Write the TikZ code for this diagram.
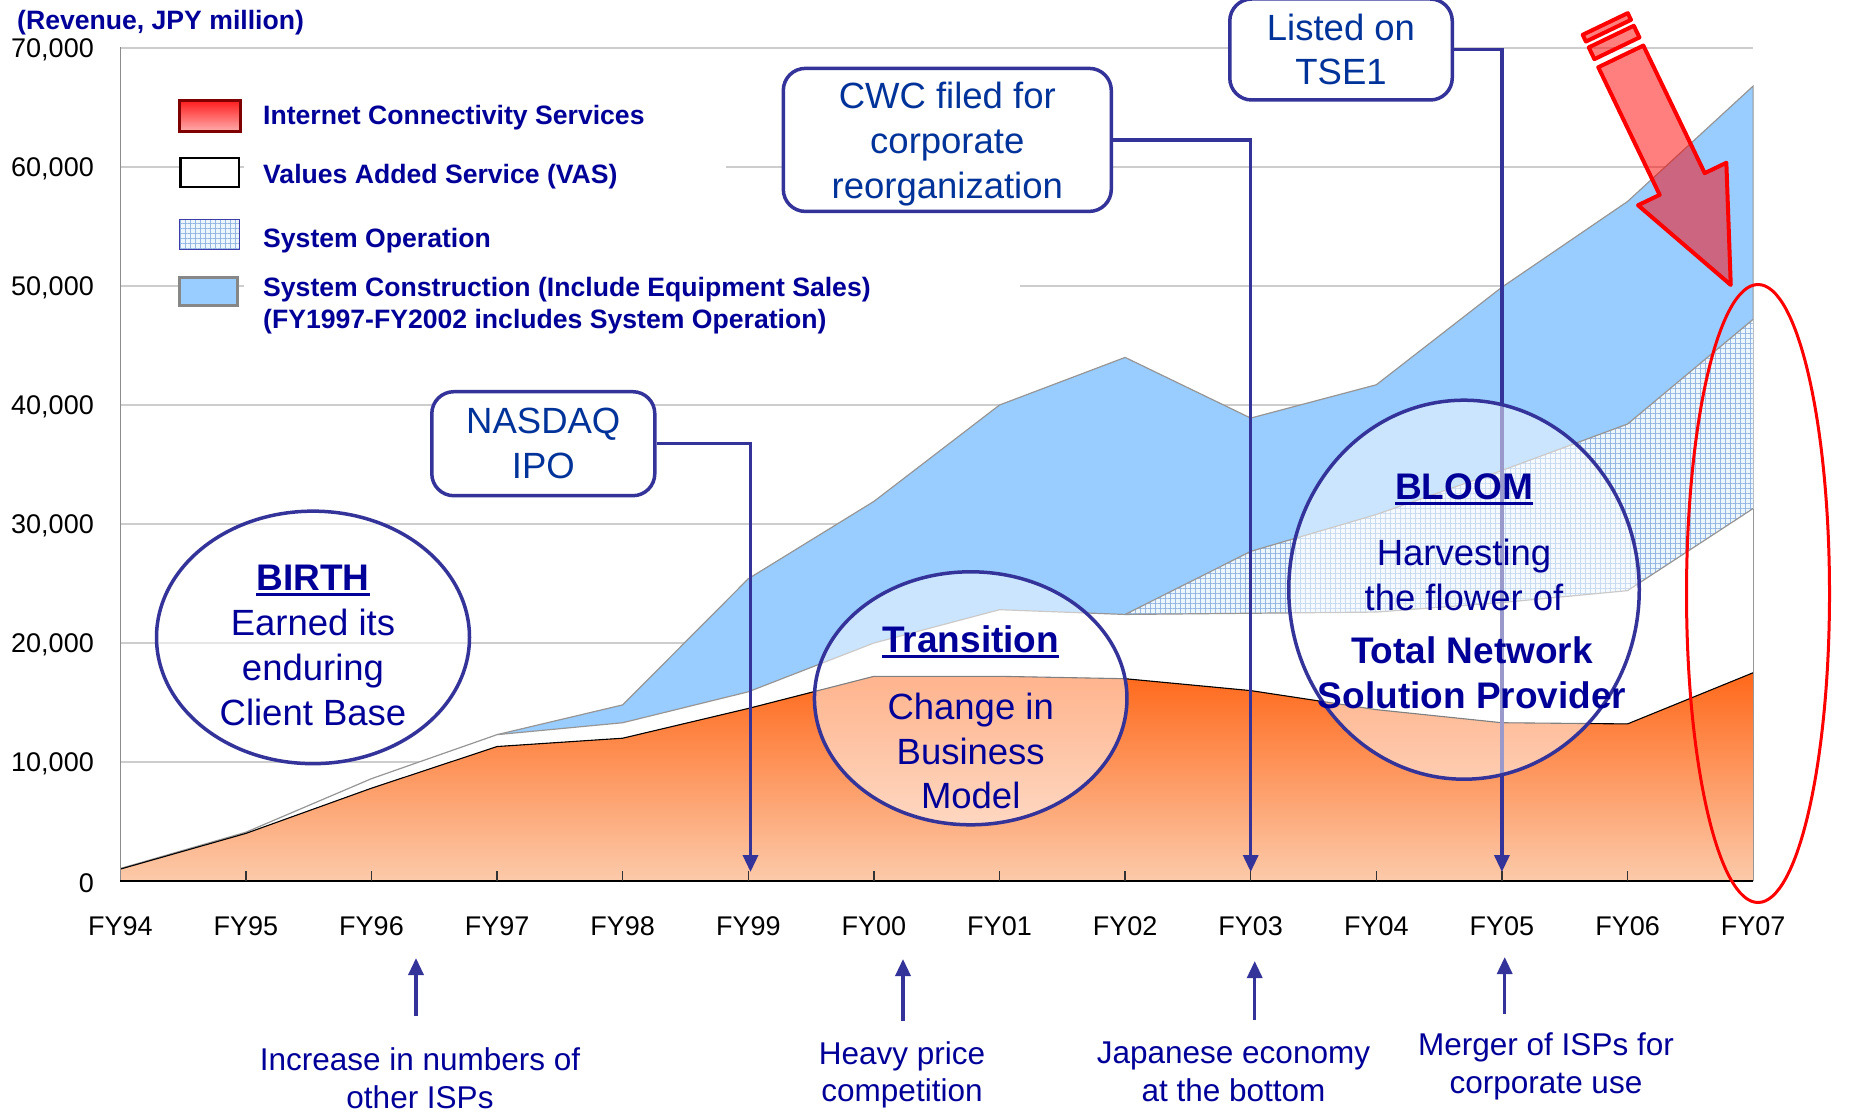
\documentclass[tikz,border=0pt]{standalone}
\usepackage{fontspec}
\setmainfont{Liberation Sans}
\usetikzlibrary{arrows.meta,shapes.geometric,patterns.meta}

\definecolor{cnav}{RGB}{0,0,153}
\definecolor{cbox}{RGB}{0,51,153}
\definecolor{cline}{RGB}{51,51,153}
\definecolor{cblue}{RGB}{153,204,255}
\definecolor{cgrid}{RGB}{205,205,205}
\definecolor{corgT}{RGB}{255,104,26}
\definecolor{corgM}{RGB}{252,162,122}
\definecolor{corgB}{RGB}{252,202,170}
\definecolor{chatch}{RGB}{150,182,228}
\definecolor{chatchbg}{RGB}{236,246,253}
\definecolor{cdred}{RGB}{128,0,0}
\definecolor{careal}{RGB}{150,150,150}
\definecolor{caxis}{RGB}{140,140,140}
\definecolor{credT}{RGB}{255,30,30}
\definecolor{credB}{RGB}{255,175,175}
\definecolor{chbord}{RGB}{60,60,170}
\definecolor{cgbord}{RGB}{135,135,135}
\newcommand\fsz[2]{\fontsize{#1}{#2}\selectfont}

\begin{document}
\begin{tikzpicture}[x=1pt,y=-1pt,
  gridl/.style={cgrid,line width=1.4pt},
  arealine/.style={draw=careal,line width=1.2pt},
  conn/.style={cline,line width=3.4pt,-{Triangle[width=15pt,length=17pt]}},
  boxst/.style={draw=cline,line width=3.5pt,rounded corners=22pt,fill=white,align=center,
     text=cbox,font=\fsz{36.5}{44.8},inner sep=0pt},
  btxt/.style={text=cbox,font=\fsz{36.5}{44.8},align=center,inner sep=0pt},
  ellst/.style={ellipse,draw=cline,line width=3.5pt,fill=white,fill opacity=0.5,draw opacity=1,inner sep=0pt},
  etxt/.style={text=cnav,font=\fsz{36.5}{44.8},align=center,inner sep=0pt},
  ehead/.style={text=cnav,font=\bfseries\fsz{37}{44.8},align=center,inner sep=0pt},
  legt/.style={anchor=west,inner sep=0pt,text=cnav,font=\bfseries\fsz{26.6}{32},align=left},
  ylab/.style={anchor=east,inner sep=0pt,font=\fsz{27}{32}},
  xlab/.style={inner sep=0pt,font=\fsz{27}{32}},
  blab/.style={text=cnav,font=\fsz{31.5}{37.5},align=center,inner sep=0pt},
  redarr/.style={draw=red,line width=4pt,fill=red,fill opacity=0.5,draw opacity=1,line join=round},
  ulin/.style={cnav,line width=2.6pt}
]
\useasboundingbox (0,0) rectangle (1849,1113);

% ---------- data coordinates ----------
\foreach \i in {0,...,13} \coordinate (b\i) at ({120.3+125.6*\i},881);
\foreach \i/\v in {0/1.0,1/4.0,2/7.8,3/11.3,4/12.0,5/14.5,6/17.2,7/17.2,8/17.0,9/16.0,10/14.4,11/13.3,12/13.2,13/17.5}
  \coordinate (o\i) at ({120.3+125.6*\i},{881-11.9*\v});
\foreach \i/\v in {0/1.05,1/4.1,2/8.6,3/12.3,4/13.3,5/15.9,6/20.0,7/22.8,8/22.4,9/22.5,10/22.6,11/23.4,12/24.4,13/31.3}
  \coordinate (v\i) at ({120.3+125.6*\i},{881-11.9*\v});
\foreach \i/\v in {8/22.4,9/27.7,10/30.8,11/34.5,12/38.4,13/47.2}
  \coordinate (s\i) at ({120.3+125.6*\i},{881-11.9*\v});
\foreach \i/\v in {3/12.3,4/14.8,5/25.4,6/31.9,7/40.0,8/44.0,9/38.9,10/41.7,11/49.9,12/57.1,13/66.8}
  \coordinate (c\i) at ({120.3+125.6*\i},{881-11.9*\v});

% ---------- gridlines ----------
\foreach \k in {1,...,7} \draw[gridl] (120.3,{881-119*\k}) -- (1753.1,{881-119*\k});

% ---------- areas ----------
\fill[cblue] (c3)--(c4)--(c5)--(c6)--(c7)--(c8)--(c9)--(c10)--(c11)--(c12)--(c13)--(b13)--(b3)--cycle;
\draw[arealine] (c3)--(c4)--(c5)--(c6)--(c7)--(c8)--(c9)--(c10)--(c11)--(c12)--(c13)--(b13);
\fill[chatchbg] (s8)--(s9)--(s10)--(s11)--(s12)--(s13)--(b13)--(b8)--cycle;
\fill[pattern={Hatch[angle=0,distance=5pt,line width=0.9pt]},pattern color=chatch]
  (s8)--(s9)--(s10)--(s11)--(s12)--(s13)--(b13)--(b8)--cycle;
\draw[arealine] (s8)--(s9)--(s10)--(s11)--(s12)--(s13);
\fill[white] (v0)--(v1)--(v2)--(v3)--(v4)--(v5)--(v6)--(v7)--(v8)--(v9)--(v10)--(v11)--(v12)--(v13)--(b13)--(b0)--cycle;
\draw[arealine] (v0)--(v1)--(v2)--(v3)--(v4)--(v5)--(v6)--(v7)--(v8)--(v9)--(v10)--(v11)--(v12)--(v13);
\fill[top color=corgT,middle color=corgM,bottom color=corgB]
  (o0)--(o1)--(o2)--(o3)--(o4)--(o5)--(o6)--(o7)--(o8)--(o9)--(o10)--(o11)--(o12)--(o13)--(b13)--(b0)--cycle;
\draw[black,line width=1.1pt] (o0)--(o1)--(o2)--(o3)--(o4)--(o5)--(o6)--(o7)--(o8)--(o9)--(o10)--(o11)--(o12)--(o13);
\draw[arealine] (v13)--(b13);

% ---------- axes ----------
\draw[caxis,line width=1.4pt] (120.3,47.4) -- (b0);
\draw[black,line width=2pt] (b0) -- (b13);
\foreach \i in {1,...,12} \draw[black!80,line width=1.3pt] (b\i) -- ++(0,-10);

\foreach \k/\t in {0/0,1/{10,000},2/{20,000},3/{30,000},4/{40,000},5/{50,000},6/{60,000},7/{70,000}}
  \node[ylab] (yl\k) at (94,{883-119*\k}) {\t};
\foreach \i/\t in {0/FY94,1/FY95,2/FY96,3/FY97,4/FY98,5/FY99,6/FY00,7/FY01,8/FY02,9/FY03,10/FY04,11/FY05,12/FY06,13/FY07}
  \node[xlab] (xl\i) at ({120.3+125.6*\i},926) {\t};

\node[legt] (ytitle) at (17,22.5) {(Revenue, JPY million)};

% ---------- legend ----------
\fill[white] (244,152) rectangle (726,198);
\fill[white] (244,272) rectangle (1020,338);
\draw[cdred,line width=3pt,top color=credT,bottom color=credB] (179.8,100.8) rectangle (240.2,131.8);
\draw[black,line width=2.2pt,fill=white] (180.4,157.8) rectangle (239.2,187.2);
\fill[chatchbg] (179.8,219.8) rectangle (239.8,249.5);
\fill[pattern={Hatch[angle=0,distance=5pt,line width=0.9pt]},pattern color=chatch] (179.8,219.8) rectangle (239.8,249.5);
\draw[chbord,line width=1.1pt] (179.8,219.8) rectangle (239.8,249.5);
\draw[cgbord,line width=3pt,fill=cblue] (179.2,277.2) rectangle (237.8,305.2);

\node[legt] (l1) at (263,117.4) {Internet Connectivity Services};
\node[legt] (l2) at (263,176.4) {Values Added Service (VAS)};
\node[legt] (l3) at (263,240.4) {System Operation};
\node[legt] (l4) at (263,305.9) {System Construction (Include Equipment Sales)\\(FY1997-FY2002 includes System Operation)};

% ---------- boxes & connectors ----------
\node[boxst,minimum width=223,minimum height=104] (nasdaq) at (543.3,443.7) {NASDAQ\\IPO};
\node[boxst,minimum width=328,minimum height=143] (cwc) at (947.3,139.9) {};
\node[btxt] (cwct) at (947.3,144.3) {CWC filed for\\corporate\\reorganization};
\node[boxst,minimum width=222.5,minimum height=101] (tse) at (1341,49.5) {Listed on\\TSE1};

\coordinate (e99) at (750.5,872);
\coordinate (e03) at (1250.7,872);
\coordinate (e05) at (1501.9,872);
\draw[conn] (nasdaq.east) -| (e99);
\draw[conn] (cwc.east) -| (e03);
\draw[conn] (tse.east) -| (e05);

% ---------- ellipses ----------
\node[ellst,minimum width=313,minimum height=252.5] (birth) at (313,637.4) {};
\node[ellst,minimum width=312.5,minimum height=253] (trans) at (970.7,698.3) {};
\node[ellst,minimum width=350.5,minimum height=379] (bloom) at (1464,589.7) {};

\node[ehead] (birthh) at (313,578) {BIRTH};
\draw[ulin] ([yshift=-4pt]birthh.base west) -- ([yshift=-4pt]birthh.base east);
\node[etxt] (birthb) at (313,667.4) {Earned its\\enduring\\Client Base};

\node[ehead] (transh) at (970.7,639) {Transition};
\draw[ulin] ([yshift=-4pt]transh.base west) -- ([yshift=-4pt]transh.base east);
\node[etxt] (transb) at (970.7,751) {Change in\\Business\\Model};

\node[ehead] (bloomh) at (1464,486.5) {BLOOM};
\draw[ulin] ([yshift=-4pt]bloomh.base west) -- ([yshift=-4pt]bloomh.base east);
\node[etxt] (bloomb) at (1464,575) {Harvesting\\the flower of};
\node[ehead] (bloomc) at (1472,672.5) {Total Network\\Solution Provider};

% ---------- red arrow & red ellipse ----------
\begin{scope}[shift={(1620.8,56.4)},x={(0.4335pt,-0.9011pt)},y={(0.9011pt,0.4335pt)}]
  \draw[redarr] (0,-25) -- (141.6,-25) -- (141.6,-49) -- (253.6,0) -- (141.6,49) -- (141.6,25) -- (0,25) -- cycle;
  \draw[redarr] (-9,-25) -- (-22,-25) -- (-22,25) -- (-9,25) -- cycle;
  \draw[redarr] (-28.5,-25) -- (-36,-25) -- (-36,25) -- (-28.5,25) -- cycle;
\end{scope}
\node[ellipse,draw=red,line width=3pt,minimum width=143,minimum height=618,inner sep=0pt] (redell) at (1758,593.5) {};

% ---------- bottom labels ----------
\node[blab] (lab1) at (420,1078) {Increase in numbers of\\other ISPs};
\node[blab] (lab2) at (902,1075) {Heavy price\\competition};
\node[blab] (lab3) at (1233.5,1072) {Japanese economy\\at the bottom};
\node[blab] (lab4) at (1546,1066.5) {Merger of ISPs for\\corporate use};

\coordinate (u1s) at (416,1016); \coordinate (u1e) at (416,958);
\coordinate (u2s) at (903,1021); \coordinate (u2e) at (903,959);
\coordinate (u3s) at (1254.7,1020); \coordinate (u3e) at (1254.7,961);
\coordinate (u4s) at (1504.7,1014); \coordinate (u4e) at (1504.7,957);
\draw[conn] (u1s) -- (u1e);
\draw[conn] (u2s) -- (u2e);
\draw[conn] (u3s) -- (u3e);
\draw[conn] (u4s) -- (u4e);
\end{tikzpicture}
\end{document}
